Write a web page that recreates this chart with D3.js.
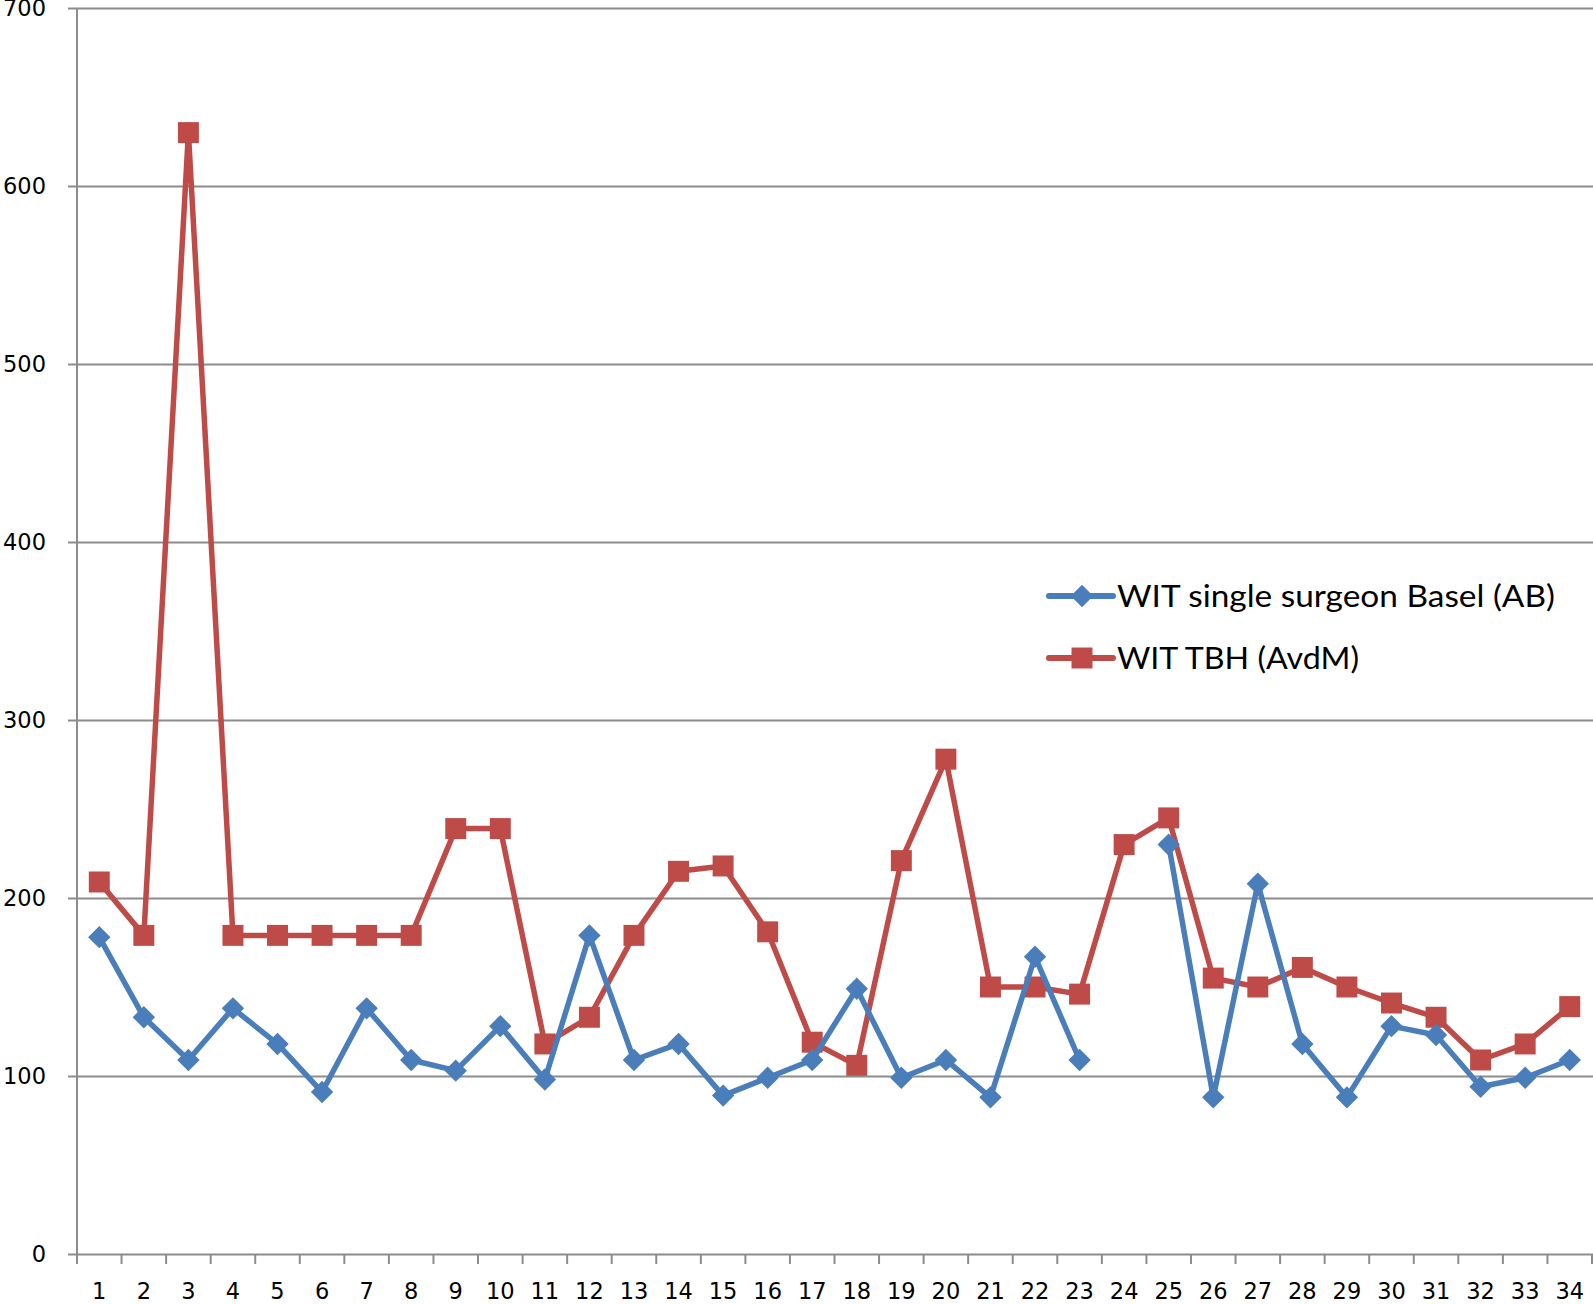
<!DOCTYPE html>
<html>
<head>
<meta charset="UTF-8">
<script src="https://d3js.org/d3.v7.min.js"></script>
<style>
  body { margin: 0; background: #fff; }
  svg { display: block; }
</style>
</head>
<body>
<svg id="chart"></svg>
<script>
// chart values
const cases = d3.range(1, 35);
const yTicks = [0, 100, 200, 300, 400, 500, 600, 700];
const seriesNames = ["WIT single surgeon Basel (AB)", "WIT TBH (AvdM)"];
const basel = [178, 133, 109, 138, 118, 91, 138, 109, 103, 128,
               98, 179, 109, 118, 89, 99, 109, 149, 99, 109,
               88, 167, 109, null, 230, 88, 208, 118, 88, 128,
               123, 94, 99, 109];
const tbh = [209, 179, 630, 179, 179, 179, 179, 179, 239, 239,
             118, 133, 179, 215, 218, 181, 119, 106, 221, 278,
             150, 150, 146, 230, 245, 155, 150, 161, 150, 141,
             133, 109, 118, 139];

const width = 1593, height = 1304;
const margin = { top: 8, right: 1, bottom: 50, left: 77 };
const blue = "#4a7ebb", red = "#be4b48", grid = "#8c8c8c";

const svg = d3.select("#chart").attr("width", width).attr("height", height);

const x = d3.scaleBand()
    .domain(cases)
    .range([margin.left, width - margin.right])
    .padding(0);
const y = d3.scaleLinear()
    .domain([0, 700])
    .range([height - margin.bottom, margin.top]);

// horizontal gridlines + y labels
const gy = svg.append("g")
    .attr("transform", `translate(${margin.left},0)`)
    .call(d3.axisLeft(y).tickValues(yTicks).tickSize(0));
gy.select(".domain").remove();
gy.selectAll(".tick line").attr("stroke", grid).attr("stroke-width", 2)
    .attr("x1", -9).attr("x2", width - margin.left);
gy.selectAll(".tick text").attr("font-family", "DejaVu Sans").attr("font-size", 22.5)
    .attr("fill", "#000").attr("x", -31);

// x axis labels
const gx = svg.append("g")
    .attr("transform", `translate(0,${height - margin.bottom})`)
    .call(d3.axisBottom(x).tickSize(0).tickPadding(29));
gx.select(".domain").remove();
gx.selectAll(".tick text").attr("font-family", "DejaVu Sans").attr("font-size", 22.5).attr("fill", "#000");

// tick marks between categories
const edges = cases.map(c => x(c)).concat([x(cases[cases.length - 1]) + x.bandwidth()]);
svg.append("g").selectAll("line")
    .data(edges)
    .join("line")
    .attr("x1", d => d).attr("x2", d => d)
    .attr("y1", y(0)).attr("y2", y(0) + 10)
    .attr("stroke", grid).attr("stroke-width", 2);

// y axis line
svg.append("line")
    .attr("x1", margin.left).attr("x2", margin.left)
    .attr("y1", y(700)).attr("y2", y(0) + 10)
    .attr("stroke", grid).attr("stroke-width", 2);

const cx = i => x(cases[i]) + x.bandwidth() / 2;
const line = d3.line()
    .defined(d => d != null)
    .x((d, i) => cx(i))
    .y(d => y(d));

const diamond = d3.symbol().type(d3.symbolDiamond2).size(320);
const square = d3.symbol().type(d3.symbolSquare).size(440);

// red series
svg.append("path")
    .datum(tbh)
    .attr("fill", "none").attr("stroke", red).attr("stroke-width", 5.5)
    .attr("stroke-linejoin", "round")
    .attr("d", line);
svg.append("g").selectAll("path")
    .data(tbh)
    .join("path")
    .attr("transform", (d, i) => `translate(${cx(i)},${y(d)})`)
    .attr("d", square).attr("fill", red);

// blue series
svg.append("path")
    .datum(basel)
    .attr("fill", "none").attr("stroke", blue).attr("stroke-width", 5.5)
    .attr("stroke-linejoin", "round")
    .attr("d", line);
svg.append("g").selectAll("path")
    .data(basel.map((v, i) => ({ v, i })).filter(d => d.v != null))
    .join("path")
    .attr("transform", d => `translate(${cx(d.i)},${y(d.v)})`)
    .attr("d", diamond).attr("fill", blue);

// legend
const legend = svg.append("g").attr("transform", "translate(1049,596)");
const items = [
  { name: seriesNames[0], color: blue, sym: diamond, len: 438 },
  { name: seriesNames[1], color: red, sym: square, len: 242 }
];
items.forEach((it, k) => {
  const g = legend.append("g").attr("transform", `translate(0,${k * 62})`);
  g.append("line").attr("x1", 0).attr("x2", 64)
    .attr("stroke", it.color).attr("stroke-width", 6).attr("stroke-linecap", "round");
  g.append("path").attr("transform", "translate(33,0)").attr("d", it.sym).attr("fill", it.color);
  g.append("text").attr("x", 68).attr("y", 11)
    .attr("font-family", "Lato").attr("font-size", 30).attr("fill", "#000")
    .attr("textLength", it.len).attr("lengthAdjust", "spacingAndGlyphs")
    .text(it.name);
});
</script>
</body>
</html>
